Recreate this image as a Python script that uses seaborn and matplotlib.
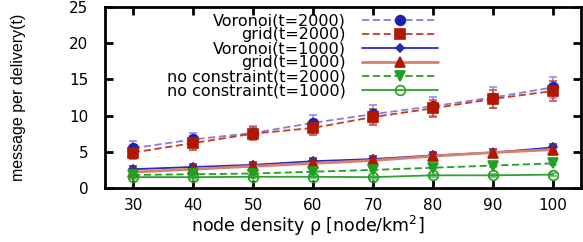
import matplotlib
matplotlib.use("Agg")
import matplotlib.pyplot as plt
import seaborn as sns
import pandas as pd

# node density values (x axis)
density = [30, 40, 50, 60, 70, 80, 90, 100]

# message per delivery
voronoi_2000 = [5.5, 6.7, 7.6, 9.0, 10.2, 11.3, 12.5, 13.9]
grid_2000 = [4.9, 6.2, 7.5, 8.3, 9.8, 11.0, 12.3, 13.4]
voronoi_1000 = [2.6, 2.9, 3.2, 3.7, 4.0, 4.5, 4.9, 5.6]
grid_1000 = [2.2, 2.6, 3.0, 3.4, 3.8, 4.4, 4.9, 5.3]
nocons_2000 = [1.8, 1.9, 2.0, 2.25, 2.5, 2.8, 3.1, 3.4]
nocons_1000 = [1.5, 1.5, 1.55, 1.55, 1.5, 1.75, 1.75, 1.85]

# error bar half widths
err_v2000 = [1.0, 0.9, 0.9, 1.1, 1.2, 1.3, 1.4, 1.5]
err_g2000 = [0.9, 1.0, 0.9, 1.0, 1.1, 1.2, 1.3, 1.4]
err_v1000 = [0.45, 0.45, 0.45, 0.45, 0.45, 0.45, 0.45, 0.5]
err_g1000 = [0.4, 0.4, 0.4, 0.4, 0.4, 0.4, 0.4, 0.45]
err_n2000 = [0.2, 0.2, 0.2, 0.2, 0.2, 0.2, 0.2, 0.2]
err_n1000 = [0.2, 0.2, 0.2, 0.2, 0.2, 0.2, 0.2, 0.2]

labels = ["Voronoi(t=2000)", "grid(t=2000)", "Voronoi(t=1000)",
          "grid(t=1000)", "no constraint(t=2000)", "no constraint(t=1000)"]

sns.set_theme(style="ticks")
plt.rcParams["font.family"] = ["DejaVu Sans"]
plt.rcParams["text.color"] = "black"
plt.rcParams["axes.labelcolor"] = "black"

dash = (0, (4, 2))
# one style per series
styles = [
    dict(color="#8080e0", mc="#2020b0", ls=dash, marker="o", ms=7, mfc="#2020b0", ec="#9090e8", lw=1.3),
    dict(color="#c83a28", mc="#b01800", ls=dash, marker="s", ms=7.5, mfc="#b01800", ec="#d05040", lw=1.3),
    dict(color="#2a2ab8", mc="#2a2ab8", ls="-", marker="D", ms=4, mfc="#2a2ab8", ec="#3a3ac0", lw=1.3),
    dict(color="#d88070", mc="#b01800", ls="-", marker="^", ms=6.5, mfc="#b01800", ec="#c04030", lw=2.0),
    dict(color="#20a020", mc="#20a020", ls=dash, marker="v", ms=6.5, mfc="#20a020", ec="#60c060", lw=1.3),
    dict(color="#30a030", mc="#20a020", ls="-", marker="o", ms=7, mfc="none", ec="#60c060", lw=1.3),
]
series = [voronoi_2000, grid_2000, voronoi_1000, grid_1000, nocons_2000, nocons_1000]
errors = [err_v2000, err_g2000, err_v1000, err_g1000, err_n2000, err_n1000]

fig = plt.figure(figsize=(5.83, 2.42), dpi=100)
ax = fig.add_axes([105 / 583, 1 - 188 / 242, 476 / 583, 181 / 242])

for lab, ys, err, st in zip(labels, series, errors, styles):
    ax.errorbar(density, ys, yerr=err, fmt="none", ecolor=st["ec"],
                elinewidth=1.2, capsize=3, capthick=1.2, zorder=2)
    df = pd.DataFrame({"density": density, "value": ys})
    sns.lineplot(data=df, x="density", y="value", ax=ax, color=st["color"],
                 linestyle=st["ls"], linewidth=st["lw"], marker=st["marker"],
                 markersize=st["ms"], markerfacecolor=st["mfc"],
                 markeredgecolor=st["mc"], markeredgewidth=1.2,
                 label=lab, zorder=3)

ax.set_xlim(25.33, 104.67)
ax.set_ylim(0, 25)
ax.set_xticks(density)
ax.set_yticks([0, 5, 10, 15, 20, 25])

for sp in ax.spines.values():
    sp.set_linewidth(2)
    sp.set_color("black")
ax.tick_params(direction="in", length=6, width=2, top=True, right=True,
               labelsize=11, colors="black")
ax.tick_params(axis="x", pad=7)
ax.tick_params(axis="y", pad=12)

ax.set_xlabel("node density ρ [node/km$^2$]", fontsize=12.5)
ax.xaxis.set_label_coords(0.426, -0.145)
ax.set_ylabel("message per delivery(t)", fontsize=11.5,
              family=["Liberation Sans"])
ax.yaxis.set_label_coords(-0.165, 0.5)

leg = ax.legend(loc="upper right", bbox_to_anchor=(0.70, 0.965),
                frameon=False, markerfirst=False, fontsize=11.5,
                handlelength=4.8, labelspacing=-0.06, borderpad=0,
                borderaxespad=0, handletextpad=1.0)

fig.savefig("out.png", dpi=100)
